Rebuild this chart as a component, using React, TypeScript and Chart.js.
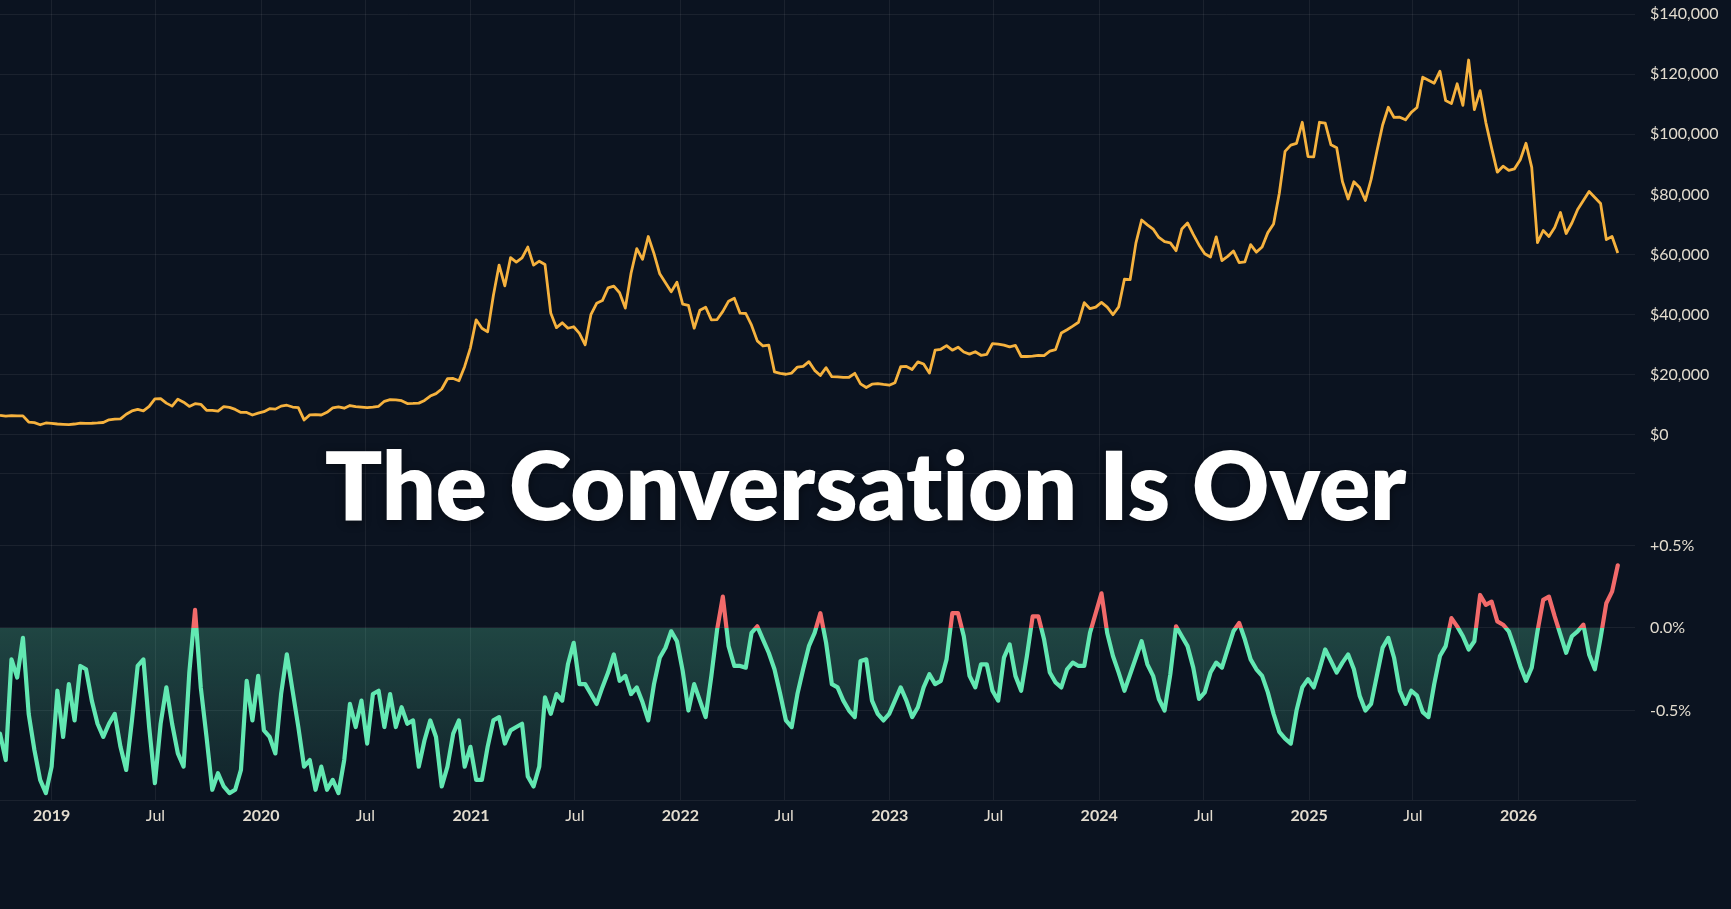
import { useEffect, useRef } from 'react';
import { Chart, registerables } from 'chart.js';

Chart.register(...registerables);

// ---- data -------------------------------------------------------------
// Samples every STEP_DAYS days starting at SERIES_START (UTC).
const SERIES_START = '2018-10-03';
const STEP_DAYS = 10;
const AXIS_ORIGIN = '2019-01-01';
const X_MIN_DATE = '2018-10-03';
const X_MAX_DATE = '2026-07-23';

const TICK_DATES = [
  '2019-01-01', '2019-07-01', '2020-01-01', '2020-07-01', '2021-01-01', '2021-07-01',
  '2022-01-01', '2022-07-01', '2023-01-01', '2023-07-01', '2024-01-01', '2024-07-01',
  '2025-01-01', '2025-07-01', '2026-01-01',
];
const MONTH_LABELS = ['', '', '', '', '', '', 'Jul', '', '', '', '', ''];

// BTC price (USD)
const PRICE = [
  6500, 6300, 6450, 6380, 6350, 4300, 4100, 3400, 4000, 3850,
  3650, 3550, 3450, 3650, 3950, 3850, 3900, 4000, 4150, 5050,
  5300, 5350, 6900, 8000, 8550, 8000, 9500, 12000, 12100, 10600,
  9600, 11900, 10900, 9500, 10400, 10200, 8200, 8200, 7950, 9400,
  9200, 8500, 7500, 7500, 6650, 7250, 7750, 8750, 8600, 9600,
  9900, 9300, 9100, 5000, 6700, 6800, 6650, 7550, 9000, 9350,
  8900, 9800, 9400, 9300, 9100, 9250, 9550, 11200, 11750, 11700,
  11400, 10450, 10500, 10600, 11500, 12950, 13750, 15300, 18700, 18800,
  18050, 22800, 29000, 38300, 35500, 34300, 46400, 56500, 49600, 59000,
  57500, 58900, 62500, 56500, 57800, 56700, 40600, 35700, 37300, 35500,
  36000, 33800, 30000, 40000, 43800, 44700, 48900, 49500, 47300, 42200,
  53800, 62000, 58400, 66000, 60300, 53600, 50600, 47600, 50800, 43500,
  43100, 35500, 41500, 42500, 38300, 38400, 41100, 44500, 45500, 40500,
  40400, 36500, 31300, 29600, 29900, 21000, 20500, 20200, 20600, 22600,
  22800, 24400, 21500, 19800, 22400, 19400, 19300, 19150, 19200, 20500,
  17000, 15800, 16900, 17100, 16800, 16550, 17400, 22700, 22800, 21800,
  24300, 23600, 20600, 28200, 28500, 29700, 28200, 29200, 27600, 26900,
  27700, 26500, 26800, 30400, 30200, 29900, 29300, 29800, 26100, 26100,
  26200, 26500, 26400, 27900, 28400, 33900, 35000, 36200, 37500, 44000,
  42000, 42500, 44100, 42500, 40000, 42600, 51800, 51700, 63800, 71500,
  69900, 68500, 65700, 64300, 63900, 61300, 68500, 70500, 66700, 63200,
  60300, 59200, 65900, 58000, 59400, 61200, 57300, 57600, 63300, 60800,
  62500, 67300, 70200, 80400, 94300, 96400, 97000, 104000, 92600, 92500,
  104000, 103700, 96500, 95500, 84300, 78500, 84200, 82300, 78000, 85000,
  94300, 103000, 109000, 105600, 105700, 104800, 107300, 108900, 119000, 118000,
  117000, 121000, 111200, 110200, 116800, 109600, 124700, 108200, 114500, 103900,
  95500, 87400, 89400, 88000, 88500, 91500, 97000, 89000, 64000, 68000,
  66000, 69000, 74000, 67000, 70500, 75000, 78000, 81000, 79000, 77000,
  65000, 66000, 60500,
];

// Premium indicator (%)
const PREMIUM = [
  -0.64, -0.80, -0.19, -0.30, -0.06, -0.52, -0.74, -0.92, -1.00, -0.84,
  -0.38, -0.66, -0.34, -0.56, -0.23, -0.25, -0.44, -0.58, -0.66, -0.58,
  -0.52, -0.72, -0.86, -0.56, -0.23, -0.19, -0.60, -0.94, -0.58, -0.36,
  -0.58, -0.76, -0.84, -0.27, 0.11, -0.36, -0.66, -0.98, -0.88, -0.96,
  -1.00, -0.98, -0.86, -0.32, -0.56, -0.29, -0.62, -0.66, -0.76, -0.40,
  -0.16, -0.38, -0.60, -0.84, -0.80, -0.98, -0.84, -0.98, -0.92, -1.00,
  -0.80, -0.46, -0.60, -0.44, -0.70, -0.40, -0.38, -0.60, -0.40, -0.60,
  -0.48, -0.58, -0.56, -0.84, -0.68, -0.56, -0.66, -0.96, -0.84, -0.64,
  -0.56, -0.84, -0.72, -0.92, -0.92, -0.72, -0.56, -0.54, -0.70, -0.62,
  -0.60, -0.58, -0.90, -0.96, -0.84, -0.42, -0.52, -0.40, -0.44, -0.22,
  -0.09, -0.34, -0.34, -0.40, -0.46, -0.36, -0.27, -0.16, -0.32, -0.29,
  -0.40, -0.36, -0.45, -0.56, -0.34, -0.18, -0.12, -0.02, -0.08, -0.26,
  -0.50, -0.34, -0.44, -0.54, -0.29, -0.01, 0.19, -0.11, -0.23, -0.23,
  -0.24, -0.03, 0.01, -0.07, -0.15, -0.25, -0.40, -0.56, -0.60, -0.40,
  -0.25, -0.11, -0.03, 0.09, -0.09, -0.34, -0.36, -0.44, -0.50, -0.54,
  -0.20, -0.19, -0.44, -0.52, -0.56, -0.52, -0.44, -0.36, -0.44, -0.54,
  -0.48, -0.36, -0.28, -0.34, -0.32, -0.19, 0.09, 0.09, -0.05, -0.29,
  -0.36, -0.22, -0.22, -0.38, -0.44, -0.18, -0.10, -0.29, -0.38, -0.17,
  0.07, 0.07, -0.07, -0.27, -0.33, -0.36, -0.25, -0.21, -0.23, -0.23,
  -0.03, 0.09, 0.21, -0.03, -0.17, -0.27, -0.38, -0.28, -0.18, -0.08,
  -0.22, -0.29, -0.43, -0.50, -0.28, 0.01, -0.05, -0.11, -0.24, -0.43,
  -0.39, -0.27, -0.21, -0.24, -0.13, -0.02, 0.03, -0.07, -0.19, -0.25,
  -0.29, -0.39, -0.52, -0.63, -0.67, -0.70, -0.50, -0.36, -0.31, -0.36,
  -0.25, -0.13, -0.20, -0.27, -0.21, -0.16, -0.25, -0.41, -0.50, -0.46,
  -0.29, -0.12, -0.06, -0.18, -0.38, -0.46, -0.38, -0.41, -0.51, -0.54,
  -0.34, -0.17, -0.11, 0.06, 0.01, -0.05, -0.13, -0.08, 0.20, 0.14,
  0.16, 0.04, 0.02, -0.02, -0.12, -0.23, -0.32, -0.24, -0.02, 0.17,
  0.19, 0.07, -0.04, -0.15, -0.05, -0.02, 0.02, -0.16, -0.25, -0.06,
  0.15, 0.22, 0.38,
];

const PRICE_TICKS = [0, 20000, 40000, 60000, 80000, 100000, 120000, 140000];
const PRICE_MIN = -12640;
const PRICE_MAX = 144660;
const PCT_TICKS = [-0.5, 0, 0.5];
const PCT_MIN = -1.042;
const PCT_MAX = 0.939;

const TITLE = 'The Conversation Is Over';

// ---- style --------------------------------------------------------------
const BG = '#0b1320';
const GRID = 'rgba(255,255,255,0.065)';
const TICK_COLOR = '#e3dccf';
const ORANGE = '#f6b23e';
const MINT = '#62e8b2';
const RED = '#f26a6a';
const FONT = 'Lato, "Noto Sans", sans-serif';

const DAY_MS = 86400000;
const dayOf = (iso: string) => (Date.parse(iso + 'T00:00:00Z') - Date.parse(AXIS_ORIGIN + 'T00:00:00Z')) / DAY_MS;

export default function App() {
  const ref = useRef<HTMLCanvasElement>(null);

  useEffect(() => {
    const canvas = ref.current;
    if (!canvas) return;
    const start = dayOf(SERIES_START);
    const xs = PRICE.map((_, i) => start + i * STEP_DAYS);
    const tickDays = TICK_DATES.map(dayOf);
    const origin = Date.parse(AXIS_ORIGIN + 'T00:00:00Z');

    const zeroPadding = (s: any) => {
      s.paddingTop = 0; s.paddingBottom = 0; s.paddingLeft = 0; s.paddingRight = 0;
    };

    const chart = new Chart(canvas, {
      type: 'line',
      data: {
        datasets: [
          {
            label: 'Price',
            data: PRICE.map((v, i) => ({ x: xs[i], y: v })),
            yAxisID: 'price',
            borderColor: ORANGE,
            borderWidth: 2.8,
            pointRadius: 0,
            tension: 0,
            fill: false,
            borderJoinStyle: 'round',
          },
          {
            label: 'Premium',
            data: PREMIUM.map((v, i) => ({ x: xs[i], y: v })),
            yAxisID: 'pct',
            borderWidth: 4.2,
            pointRadius: 0,
            tension: 0,
            borderJoinStyle: 'round',
            borderCapStyle: 'round',
            borderColor: (c: any) => {
              const ch = c.chart;
              const area = ch.chartArea;
              const sc = ch.scales && ch.scales.pct;
              if (!area || !sc) return MINT;
              const z = sc.getPixelForValue(0);
              const t = Math.min(1, Math.max(0, (z - area.top) / (area.bottom - area.top)));
              const g = ch.ctx.createLinearGradient(0, area.top, 0, area.bottom);
              g.addColorStop(0, RED);
              g.addColorStop(t, RED);
              g.addColorStop(t, MINT);
              g.addColorStop(1, MINT);
              return g;
            },
            backgroundColor: (c: any) => {
              const ch = c.chart;
              const area = ch.chartArea;
              const sc = ch.scales && ch.scales.pct;
              if (!area || !sc) return 'rgba(98,232,178,0.2)';
              const z = sc.getPixelForValue(0);
              const b = sc.getPixelForValue(PCT_MIN);
              const g = ch.ctx.createLinearGradient(0, z, 0, b);
              g.addColorStop(0, 'rgba(98,232,178,0.24)');
              g.addColorStop(1, 'rgba(98,232,178,0.07)');
              return g;
            },
            fill: { target: { value: 0 }, above: 'rgba(0,0,0,0)' },
          },
        ],
      },
      options: {
        responsive: false,
        animation: false,
        layout: { padding: 0 },
        plugins: { legend: { display: false }, tooltip: { enabled: false }, title: { display: false } },
        scales: {
          x: {
            type: 'linear',
            min: dayOf(X_MIN_DATE),
            max: dayOf(X_MAX_DATE),
            afterBuildTicks: (s: any) => { s.ticks = tickDays.map((v) => ({ value: v })); },
            afterFit: (s: any) => { s.height = 109; zeroPadding(s); },
            ticks: {
              autoSkip: false,
              maxRotation: 0,
              padding: 6,
              color: TICK_COLOR,
              font: (c: any) => {
                const d = new Date(origin + (c.tick ? c.tick.value : 0) * DAY_MS);
                return { family: FONT, size: 16, weight: d.getUTCMonth() === 0 ? 'bold' : 'normal' };
              },
              callback: (v: any) => {
                const d = new Date(origin + Number(v) * DAY_MS);
                const m = d.getUTCMonth();
                return m === 0 ? String(d.getUTCFullYear()) : MONTH_LABELS[m];
              },
            },
            grid: { color: GRID, drawTicks: false },
            border: { display: true, color: GRID },
          },
          price: {
            type: 'linear',
            position: 'right',
            stack: 'panes',
            stackWeight: 473,
            min: PRICE_MIN,
            max: PRICE_MAX,
            afterBuildTicks: (s: any) => { s.ticks = PRICE_TICKS.map((v) => ({ value: v })); },
            afterFit: (s: any) => { s.width = 96; zeroPadding(s); },
            ticks: {
              padding: 15,
              color: TICK_COLOR,
              font: { family: FONT, size: 16 },
              callback: (v: any) => '$' + Number(v).toLocaleString('en-US'),
            },
            grid: { color: GRID, drawTicks: false },
            border: { display: false },
          },
          pct: {
            type: 'linear',
            position: 'right',
            stack: 'panes',
            stackWeight: 327,
            min: PCT_MIN,
            max: PCT_MAX,
            afterBuildTicks: (s: any) => { s.ticks = [...PCT_TICKS, PCT_MAX].map((v) => ({ value: v })); },
            afterFit: (s: any) => { s.width = 96; zeroPadding(s); },
            ticks: {
              padding: 15,
              color: TICK_COLOR,
              font: { family: FONT, size: 16 },
              callback: (v: any) => {
                const n = Number(v);
                if (n === PCT_MAX) return '';
                return (n > 0 ? '+' : '') + n.toFixed(1) + '%';
              },
            },
            grid: { color: GRID, drawTicks: false },
            border: { display: false },
          },
        },
      } as any,
    });
    return () => chart.destroy();
  }, []);

  return (
    <div style={{ position: 'fixed', left: 0, top: 0, width: 1731, height: 909, background: BG, overflow: 'hidden' }}>
      <canvas ref={ref} width={1731} height={909} style={{ position: 'absolute', left: 0, top: 0, width: 1731, height: 909 }} />
      <div
        style={{
          position: 'absolute', left: 0, top: 436, width: 1731, textAlign: 'center',
          fontFamily: FONT, fontWeight: 800, fontSize: 95, lineHeight: '95px', color: '#ffffff',
          fontVariantLigatures: 'none', fontFeatureSettings: '"liga" 0, "clig" 0',
          textShadow: '0 2px 10px rgba(0,0,0,0.45)', pointerEvents: 'none', whiteSpace: 'nowrap',
        }}
      >
        {TITLE}
      </div>
    </div>
  );
}
